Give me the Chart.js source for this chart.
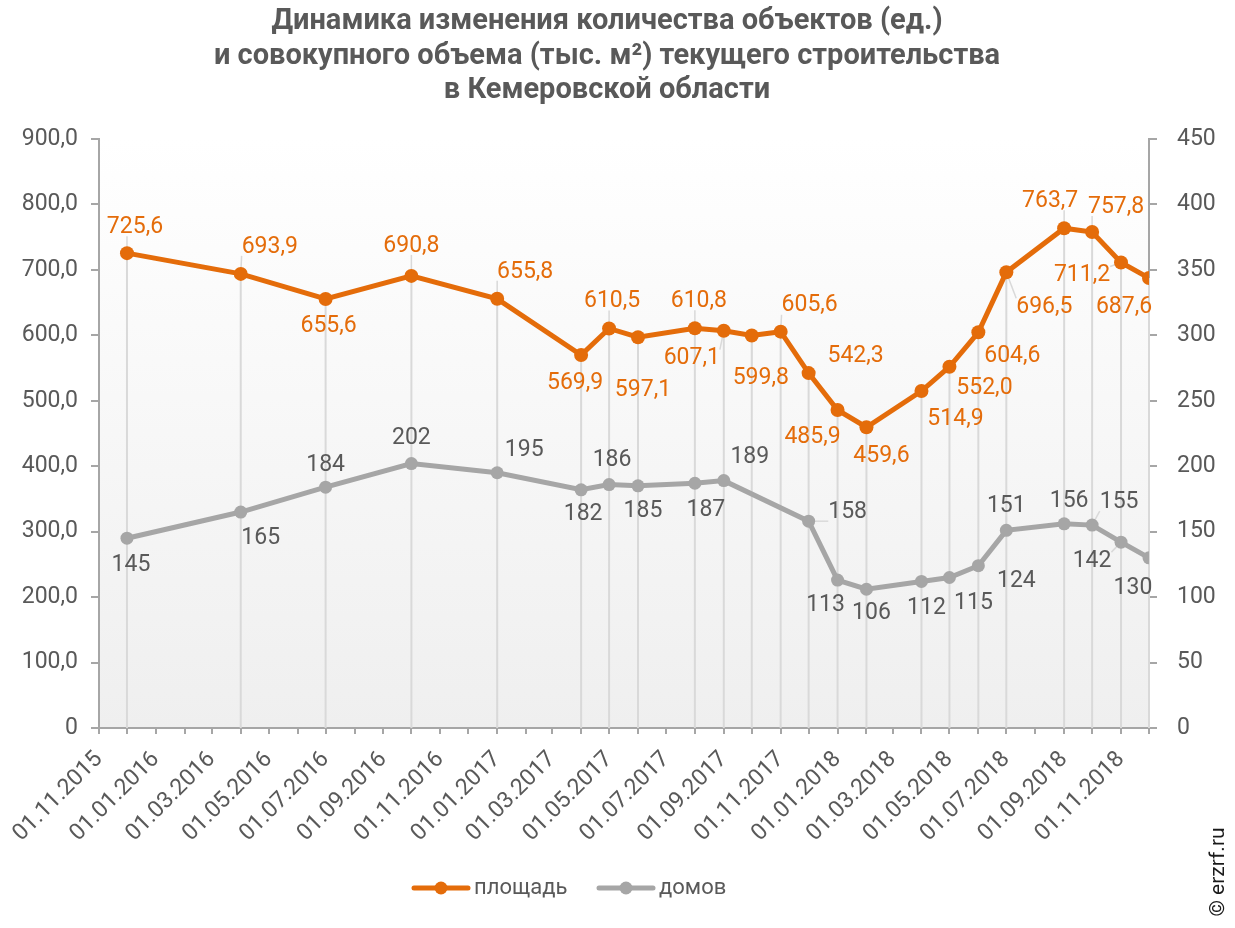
<!DOCTYPE html>
<html>
<head>
<meta charset="utf-8">
<script src="https://cdn.jsdelivr.net/npm/chart.js@4.4.1/dist/chart.umd.min.js"></script>
<style>
    html, body { margin: 0; padding: 0; background: #ffffff; }
    #wrap { width: 1235px; height: 928px; position: relative; }
</style>
</head>
<body>
<div id="wrap"><canvas id="chart" width="1235" height="928"></canvas></div>
<script>
// --- data ---
const dates = ['01.12.2015', '01.04.2016', '01.07.2016', '01.10.2016', '01.01.2017', '01.04.2017',
    '01.05.2017', '01.06.2017', '01.08.2017', '01.09.2017', '01.10.2017', '01.11.2017', '01.12.2017',
    '01.01.2018', '01.02.2018', '01.04.2018', '01.05.2018', '01.06.2018', '01.07.2018', '01.09.2018',
    '01.10.2018', '01.11.2018', '01.12.2018'];
const areaValues = [725.6, 693.9, 655.6, 690.8, 655.8, 569.9, 610.5, 597.1, 610.8, 607.1, 599.8, 605.6,
    542.3, 485.9, 459.6, 514.9, 552.0, 604.6, 696.5, 763.7, 757.8, 711.2, 687.6];
const houseValues = [145, 165, 184, 202, 195, 182, 186, 185, 187, 189, null, null,
    158, 113, 106, 112, 115, 124, 151, 156, 155, 142, 130];
const xTickLabels = ['01.11.2015', '01.01.2016', '01.03.2016', '01.05.2016', '01.07.2016', '01.09.2016',
    '01.11.2016', '01.01.2017', '01.03.2017', '01.05.2017', '01.07.2017', '01.09.2017', '01.11.2017',
    '01.01.2018', '01.03.2018', '01.05.2018', '01.07.2018', '01.09.2018', '01.11.2018'];
const axisStart = '01.11.2015';
const axisEnd = '01.12.2018';
const areaLabel = 'площадь';
const housesLabel = 'домов';
const titleLines = ['Динамика изменения количества объектов (ед.)',
    'и совокупного объема (тыс. м²) текущего строительства',
    'в Кемеровской области'];

// label placement (pixel offsets from the point) and leader lines
const areaLabelOffsets = [[8, -26], [29, -27], [3, 27], [0, -30], [28, -27], [-6, 28], [3, -27], [5, 53],
    [4, -27], [-32, 28], [9, 43], [29, -26], [47, -17], [-25, 27], [15, 29], [34, 28], [35, 22], [34, 24],
    [38, 35], [-14, -27], [24, -25], [-39, 13], [-25, 29]];
const areaLeaders = [0, 1, 3, 4, 6, 7, 8, 9, 10, 11, 18, 19, 20, 21];
const houseLabelOffsets = [[4, 27], [20, 26], [0, -22], [0, -25], [27, -23], [2, 24], [3, -24], [5, 25],
    [11, 27], [26, -23], null, null, [39, -9], [-12, 25], [5, 24], [5, 27], [24, 26], [38, 16], [0, -24],
    [5, -23], [27, -23], [-29, 19], [-16, 30]];
const houseLeaders = [12, 18, 20, 21, 22];

const orange = '#E46C0A';
const grey = '#A6A6A6';
const textGrey = '#595959';
const fontFamily = 'Roboto, "Liberation Sans", sans-serif';

function dayOf(s) {
    const p = s.split('.');
    return Date.UTC(+p[2], +p[1] - 1, +p[0]) / 86400000;
}
const day0 = dayOf(axisStart);
const xDays = dates.map(d => dayOf(d) - day0);

// a tick for every month, labels on every second one
const monthTicks = [];
(function () {
    const p = axisStart.split('.');
    let y = +p[2], m = +p[1] - 1;
    const last = dayOf(axisEnd) - day0;
    while (true) {
        const v = Date.UTC(y, m, 1) / 86400000 - day0;
        if (v > last) break;
        monthTicks.push(v);
        m++;
        if (m > 11) { m = 0; y++; }
    }
})();
const tickLabelByDay = {};
xTickLabels.forEach(l => { tickLabelByDay[dayOf(l) - day0] = l; });

function fmt1(v) {
    return v.toFixed(1).replace('.', ',');
}

const backgroundPlugin = {
    id: 'plotBackground',
    beforeDraw(chart) {
        const { ctx, chartArea: a } = chart;
        const g = ctx.createLinearGradient(0, a.top, 0, a.bottom);
        g.addColorStop(0, '#ffffff');
        g.addColorStop(1, '#efefef');
        ctx.save();
        ctx.fillStyle = g;
        ctx.fillRect(a.left, a.top, a.right - a.left, a.bottom - a.top);
        ctx.restore();
    }
};

function labelBox(ctx, text, cx, cy) {
    const w = ctx.measureText(text).width;
    return { l: cx - w / 2, r: cx + w / 2, t: cy - 9, b: cy + 9 };
}

const dropAndLeaderPlugin = {
    id: 'dropLines',
    beforeDatasetsDraw(chart) {
        const { ctx, chartArea: a } = chart;
        const xs = chart.scales.x, ya = chart.scales.y, yh = chart.scales.y1;
        ctx.save();
        ctx.strokeStyle = '#d9d9d9';
        ctx.lineWidth = 2;
        xDays.forEach((d, i) => {
            const x = xs.getPixelForValue(d);
            let top = ya.getPixelForValue(areaValues[i]);
            if (houseValues[i] !== null) top = Math.min(top, yh.getPixelForValue(houseValues[i]));
            ctx.beginPath();
            ctx.moveTo(x, top);
            ctx.lineTo(x, a.bottom);
            ctx.stroke();
        });

        ctx.font = '23px ' + fontFamily;
        ctx.lineWidth = 1.5;
        const leader = (vals, scale, offsets, list, fmt) => {
            list.forEach(i => {
                if (vals[i] === null) return;
                const px = xs.getPixelForValue(xDays[i]);
                const py = scale.getPixelForValue(vals[i]);
                const o = offsets[i];
                const b = labelBox(ctx, fmt(vals[i]), px + o[0], py + o[1]);
                const qx = Math.max(b.l, Math.min(px, b.r));
                const qy = Math.max(b.t, Math.min(py, b.b));
                ctx.beginPath();
                ctx.moveTo(px, py);
                ctx.lineTo(qx, qy);
                ctx.stroke();
            });
        };
        leader(areaValues, ya, areaLabelOffsets, areaLeaders, fmt1);
        leader(houseValues, yh, houseLabelOffsets, houseLeaders, v => String(v));
        ctx.restore();
    },
    afterDatasetsDraw(chart) {
        const { ctx } = chart;
        const xs = chart.scales.x;
        ctx.save();
        ctx.font = '23px ' + fontFamily;
        ctx.textAlign = 'center';
        ctx.textBaseline = 'middle';
        const draw = (vals, scale, offsets, color, fmt) => {
            ctx.fillStyle = color;
            vals.forEach((v, i) => {
                if (v === null) return;
                const px = xs.getPixelForValue(xDays[i]);
                const py = scale.getPixelForValue(v);
                const o = offsets[i];
                ctx.fillText(fmt(v), px + o[0], py + o[1]);
            });
        };
        draw(areaValues, chart.scales.y, areaLabelOffsets, orange, fmt1);
        draw(houseValues, chart.scales.y1, houseLabelOffsets, textGrey, v => String(v));
        ctx.restore();
    },
    afterDraw(chart) {
        const { ctx } = chart;
        ctx.save();
        // title
        ctx.fillStyle = textGrey;
        ctx.font = 'bold 29px ' + fontFamily;
        ctx.textAlign = 'center';
        ctx.textBaseline = 'middle';
        const ty = [22, 57, 91];
        titleLines.forEach((t, i) => ctx.fillText(t, 607, ty[i]));

        // legend
        const legendItem = (x0, color, text) => {
            ctx.strokeStyle = color;
            ctx.lineWidth = 5;
            ctx.lineCap = 'round';
            ctx.beginPath();
            ctx.moveTo(x0, 888);
            ctx.lineTo(x0 + 54, 888);
            ctx.stroke();
            ctx.fillStyle = color;
            ctx.beginPath();
            ctx.arc(x0 + 27, 888, 6.5, 0, Math.PI * 2);
            ctx.fill();
            ctx.fillStyle = textGrey;
            ctx.font = '22px ' + fontFamily;
            ctx.textAlign = 'left';
            ctx.fillText(text, x0 + 60, 888);
        };
        legendItem(414, orange, areaLabel);
        legendItem(599, grey, housesLabel);

        // watermark
        ctx.translate(1219, 872);
        ctx.rotate(-Math.PI / 2);
        ctx.fillStyle = '#1a1a1a';
        ctx.font = '21px ' + fontFamily;
        ctx.textAlign = 'center';
        ctx.fillText('© erzrf.ru', 0, 0);
        ctx.restore();
    }
};

window.addEventListener('load', () => {
    buildChart();
});

function buildChart() {
    const ctx = document.getElementById('chart').getContext('2d');
    const axisGrid = {
        drawOnChartArea: false,
        drawTicks: true,
        tickLength: 8,
        color: '#a6a6a6',
        lineWidth: 2
    };
    const axisBorder = { color: '#a6a6a6', width: 2 };
    const tickFont = { family: fontFamily, size: 23 };

    new Chart(ctx, {
        type: 'line',
        data: {
            datasets: [{
                label: areaLabel,
                data: xDays.map((d, i) => ({ x: d, y: areaValues[i] })),
                yAxisID: 'y',
                borderColor: orange,
                backgroundColor: orange,
                borderWidth: 5,
                pointRadius: 7,
                pointBorderWidth: 0,
                pointBackgroundColor: orange,
                tension: 0
            }, {
                label: housesLabel,
                data: xDays.map((d, i) => ({ x: d, y: houseValues[i] })),
                yAxisID: 'y1',
                borderColor: grey,
                backgroundColor: grey,
                borderWidth: 5,
                pointRadius: 6.5,
                pointBorderWidth: 0,
                pointBackgroundColor: grey,
                spanGaps: true,
                tension: 0
            }]
        },
        options: {
            responsive: false,
            animation: false,
            layout: { padding: { top: 139, left: 0, right: 0, bottom: 0 } },
            plugins: {
                legend: { display: false },
                tooltip: { enabled: false },
                title: { display: false }
            },
            scales: {
                x: {
                    type: 'linear',
                    min: 0,
                    max: dayOf(axisEnd) - day0,
                    afterBuildTicks: scale => {
                        scale.ticks = monthTicks.map(v => ({ value: v }));
                    },
                    afterFit: scale => { scale.height = 200; },
                    grid: Object.assign({}, axisGrid, { tickLength: 6 }),
                    border: axisBorder,
                    ticks: {
                        autoSkip: false,
                        minRotation: 45,
                        maxRotation: 45,
                        padding: 12,
                        color: textGrey,
                        font: tickFont,
                        callback: v => tickLabelByDay[v] || ''
                    }
                },
                y: {
                    position: 'left',
                    min: 0,
                    max: 900,
                    afterFit: scale => { scale.width = 99; },
                    grid: axisGrid,
                    border: axisBorder,
                    ticks: {
                        stepSize: 100,
                        padding: 13,
                        color: textGrey,
                        font: tickFont,
                        callback: v => v === 0 ? '0' : fmt1(v)
                    }
                },
                y1: {
                    position: 'right',
                    min: 0,
                    max: 450,
                    afterFit: scale => { scale.width = 86; },
                    grid: axisGrid,
                    border: axisBorder,
                    ticks: {
                        stepSize: 50,
                        padding: 20,
                        color: textGrey,
                        font: tickFont
                    }
                }
            }
        },
        plugins: [backgroundPlugin, dropAndLeaderPlugin]
    });
}
</script>
</body>
</html>
